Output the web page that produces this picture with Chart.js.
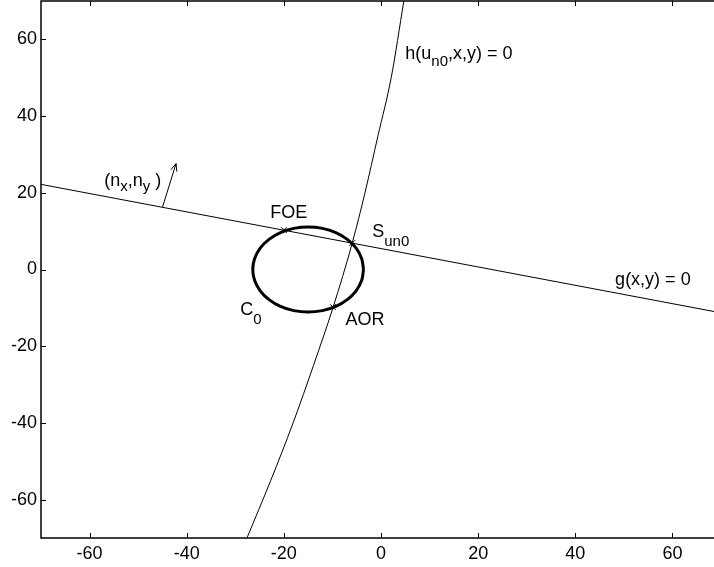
<!DOCTYPE html>
<html>
<head>
<meta charset="utf-8">
<script src="https://cdn.jsdelivr.net/npm/chart.js@4/dist/chart.umd.min.js"></script>
<style>
  html, body { margin: 0; padding: 0; background: #fff; overflow: hidden; width: 714px; height: 567px; }
  #wrap { width: 722px; height: 567px; }
</style>
</head>
<body>
<div id="wrap"><canvas id="c" width="722" height="567"></canvas></div>
<script>
// ---- data ----
const xTickValues = [-60, -40, -20, 0, 20, 40, 60];
const yTickValues = [-60, -40, -20, 0, 20, 40, 60];

// straight line g(x,y) = 0
const gLineX = [-70, 70];
const gLineY = [22.2, -11.3];

// curve h(u_n0,x,y) = 0
const hCurveX = [-27.6, -22.7, -18.1, -13.9, -9.9, -5.9, -3.3, -0.6, 2.1, 4.7];
const hCurveY = [-70, -55, -40, -25, -10, 7, 20, 35, 50, 70];

// closed curve C0
const circleX = [-3.6, -3.99, -5.13, -6.94, -9.3, -12.05, -15, -17.95, -20.7, -23.06, -24.87, -26.01, -26.4,
                 -26.01, -24.87, -23.06, -20.7, -17.95, -15, -12.05, -9.3, -6.94, -5.13, -3.99, -3.6];
const circleY = [0, 2.87, 5.55, 7.85, 9.61, 10.72, 11.1, 10.72, 9.61, 7.85, 5.55, 2.87, 0,
                 -2.87, -5.55, -7.85, -9.61, -10.72, -11.1, -10.72, -9.61, -7.85, -5.55, -2.87, 0];

// marked points (FOE, S_un0, AOR)
const markerNames = ['FOE', 'S_un0', 'AOR'];
const markerX = [-20, -5.9, -9.9];
const markerY = [10.3, 6.9, -9.8];

// normal vector arrow (n_x, n_y)
const arrowX = [-45, -42.2];
const arrowY = [16.2, 27.6];

// ---- text annotations (data coordinates) ----
const annotations = [
  { parts: [['(n', 0], ['x', 1], [',n', 0], ['y', 1], [' )', 0]], x: -57, y: 21.7, sub: 5 },
  { parts: [['FOE', 0]], x: -22.8, y: 13.4, sub: 0 },
  { parts: [['S', 0], ['un0', 1]], x: -1.8, y: 8.4, sub: 9 },
  { parts: [['C', 0], ['0', 1]], x: -29, y: -11.8, sub: 9 },
  { parts: [['AOR', 0]], x: -7.3, y: -14.4, sub: 0 },
  { parts: [['h(u', 0], ['n0', 1], [',x,y) = 0', 0]], x: 5.0, y: 54.9, sub: 7 },
  { parts: [['g(x,y) = 0', 0]], x: 48.2, y: -4.0, sub: 0 }
];

const FONT = '"Liberation Sans", Arial, Helvetica, sans-serif';
const toPts = (xs, ys) => xs.map((x, i) => ({ x: x, y: ys[i] }));

const framePlugin = {
  id: 'frame',
  afterDatasetsDraw(chart) {
    const ctx = chart.ctx;
    const a = chart.chartArea;
    const xs = chart.scales.x, ys = chart.scales.y;
    ctx.save();
    // arrow
    const p0x = xs.getPixelForValue(arrowX[0]), p0y = ys.getPixelForValue(arrowY[0]);
    const p1x = xs.getPixelForValue(arrowX[1]), p1y = ys.getPixelForValue(arrowY[1]);
    ctx.strokeStyle = '#000';
    ctx.lineWidth = 1;
    ctx.beginPath();
    ctx.moveTo(p0x, p0y); ctx.lineTo(p1x, p1y);
    const ang = Math.atan2(p1y - p0y, p1x - p0x);
    const hl = 8, ha = 0.4;
    ctx.moveTo(p1x - hl * Math.cos(ang - ha), p1y - hl * Math.sin(ang - ha));
    ctx.lineTo(p1x, p1y);
    ctx.lineTo(p1x - hl * Math.cos(ang + ha), p1y - hl * Math.sin(ang + ha));
    ctx.stroke();

    // text annotations
    ctx.fillStyle = '#000';
    ctx.textBaseline = 'alphabetic';
    ctx.textAlign = 'left';
    annotations.forEach(an => {
      let px = xs.getPixelForValue(an.x);
      const py = ys.getPixelForValue(an.y);
      an.parts.forEach(([t, isSub]) => {
        ctx.font = (isSub ? '15px ' : '18px ') + FONT;
        ctx.fillText(t, px, py + (isSub ? an.sub : 0));
        px += ctx.measureText(t).width;
      });
    });

    // frame
    ctx.lineWidth = 1.5;
    ctx.strokeRect(a.left, a.top, a.right - a.left, a.bottom - a.top);
    // inward ticks on all four sides
    ctx.lineWidth = 1;
    const tl = 5;
    ctx.beginPath();
    xTickValues.forEach(v => {
      const px = Math.round(xs.getPixelForValue(v)) + 0.5;
      ctx.moveTo(px, a.bottom); ctx.lineTo(px, a.bottom - tl);
      ctx.moveTo(px, a.top); ctx.lineTo(px, a.top + tl);
    });
    yTickValues.forEach(v => {
      const py = Math.round(ys.getPixelForValue(v)) + 0.5;
      ctx.moveTo(a.left, py); ctx.lineTo(a.left + tl, py);
      ctx.moveTo(a.right, py); ctx.lineTo(a.right - tl, py);
    });
    ctx.stroke();
    ctx.restore();
  }
};

new Chart(document.getElementById('c'), {
  type: 'scatter',
  data: {
    datasets: [
      { label: 'g(x,y) = 0', data: toPts(gLineX, gLineY), showLine: true, borderColor: '#000', borderWidth: 1, pointRadius: 0 },
      { label: 'h(u_n0,x,y) = 0', data: toPts(hCurveX, hCurveY), showLine: true, borderColor: '#000', borderWidth: 1, pointRadius: 0, cubicInterpolationMode: 'monotone' },
      { label: 'C0', data: toPts(circleX, circleY), showLine: true, borderColor: '#000', borderWidth: 3, pointRadius: 0, tension: 0.4 },
      { label: 'points', data: toPts(markerX, markerY), showLine: false, pointStyle: 'crossRot', pointRadius: 4, borderColor: '#000', borderWidth: 1, backgroundColor: '#000' }
    ]
  },
  options: {
    responsive: false,
    animation: false,
    devicePixelRatio: 1,
    layout: { autoPadding: false, padding: { top: 1, right: 1, left: 0, bottom: 0 } },
    plugins: { legend: { display: false }, tooltip: { enabled: false } },
    scales: {
      x: {
        type: 'linear', min: -70, max: 70,
        afterBuildTicks: s => { s.ticks = xTickValues.map(v => ({ value: v })); },
        afterFit: s => { s.height = 29; s.paddingLeft = 0; s.paddingRight = 0; },
        ticks: { color: '#000', padding: 5, font: { family: FONT, size: 18 }, maxRotation: 0, autoSkip: false },
        grid: { drawOnChartArea: false, drawTicks: false },
        border: { display: false }
      },
      y: {
        type: 'linear', min: -70, max: 70,
        afterBuildTicks: s => { s.ticks = yTickValues.map(v => ({ value: v })); },
        afterFit: s => { s.width = 41; s.paddingTop = 0; s.paddingBottom = 0; },
        ticks: { color: '#000', padding: 4, font: { family: FONT, size: 18 }, autoSkip: false },
        grid: { drawOnChartArea: false, drawTicks: false },
        border: { display: false }
      }
    }
  },
  plugins: [framePlugin]
});
</script>
</body>
</html>
